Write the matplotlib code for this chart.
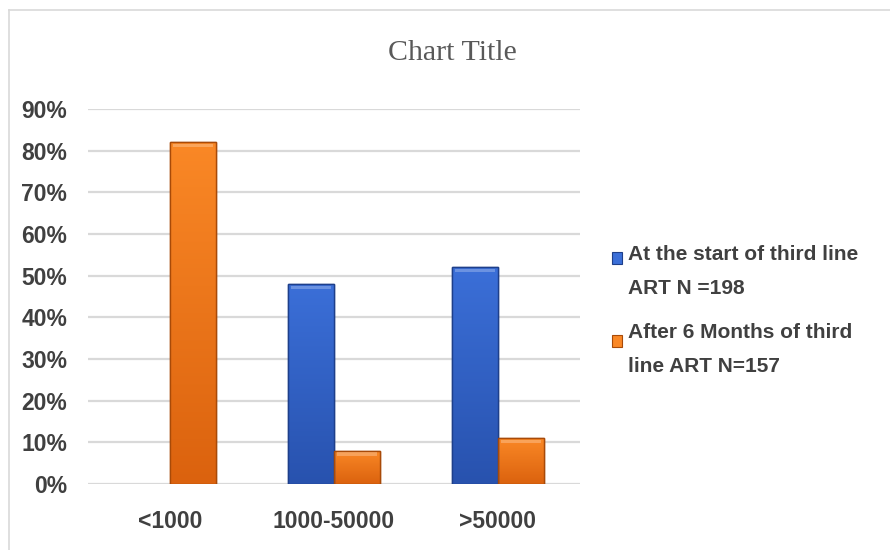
import numpy as np
import matplotlib
matplotlib.use("Agg")
import matplotlib.pyplot as plt
from matplotlib.colors import LinearSegmentedColormap
from matplotlib.patches import Rectangle
from matplotlib.lines import Line2D

# ---- data ----
categories = ["<1000", "1000-50000", ">50000"]
series_names = ["At the start of third line\nART N =198",
                "After 6 Months of third\nline ART N=157"]
start_values = [0.0, 0.48, 0.52]
after_values = [0.82, 0.08, 0.11]
y_ticks = [0.0, 0.1, 0.2, 0.3, 0.4, 0.5, 0.6, 0.7, 0.8, 0.9]
y_tick_labels = ["0%", "10%", "20%", "30%", "40%", "50%", "60%", "70%", "80%", "90%"]

# ---- style ----
W, H = 890, 550
fig = plt.figure(figsize=(W / 100, H / 100), dpi=100)
fig.patch.set_facecolor("white")

ax = fig.add_axes([88 / W, 1 - 484 / H, (580 - 88) / W, (484 - 109) / H])
ax.set_facecolor("white")

blue_top, blue_bot, blue_edge = "#3b6fd8", "#2852ae", "#1e3f8a"
orng_top, orng_bot, orng_edge = "#fa8826", "#db620e", "#a84a08"

x = np.arange(len(categories))
bw = 0.28

series = [(start_values, blue_top, blue_bot, blue_edge, -bw / 2),
          (after_values, orng_top, orng_bot, orng_edge, bw / 2)]

grad = np.linspace(0, 1, 256).reshape(-1, 1)
for vals, ctop, cbot, cedge, off in series:
    bars = ax.bar(x + off, vals, width=bw, color=ctop, edgecolor=cedge,
                  linewidth=1.0, zorder=3)
    cmap = LinearSegmentedColormap.from_list("g", [cbot, ctop])
    for b in bars:
        h = b.get_height()
        if h <= 0:
            b.set_visible(False)
            continue
        x0 = b.get_x()
        w = b.get_width()
        im = ax.imshow(grad, cmap=cmap, aspect="auto", origin="lower",
                       extent=[x0, x0 + w, 0, h], zorder=3.5,
                       interpolation="bicubic")
        im.set_clip_path(b)
        ax.add_patch(Rectangle((x0, 0), w, h, fill=False, edgecolor=cedge,
                               linewidth=1.0, zorder=4))
        ax.add_patch(Rectangle((x0 + w * 0.06, h - 0.012), w * 0.88, 0.008,
                               facecolor="white", alpha=0.25, linewidth=0,
                               zorder=4.5))

ax.set_xlim(-0.5, len(categories) - 0.5)
ax.set_ylim(0, 0.9)
ax.set_yticks(y_ticks)
ax.set_yticklabels(y_tick_labels)
ax.set_xticks(x)
ax.set_xticklabels(categories)
ax.yaxis.grid(True, color="#d9d9d9", linewidth=1.6, zorder=0)
ax.set_axisbelow(True)
for s in ax.spines.values():
    s.set_visible(False)
ax.tick_params(axis="both", length=0, colors="#404040")
ax.tick_params(axis="y", pad=15)
ax.tick_params(axis="x", pad=19)
for lab in ax.get_yticklabels() + ax.get_xticklabels():
    lab.set_fontsize(16.5)
    lab.set_fontweight("bold")
    lab.set_fontfamily("Liberation Sans")
    lab.set_color("#404040")

# title
fig.text(452 / W, 1 - 53 / H, "Chart Title", ha="center", va="center",
         fontsize=21.5, family="Liberation Serif", color="#595959")

# outer frame (left and top edges)
fig.add_artist(Line2D([9 / W, 9 / W], [0, 1 - 10 / H], transform=fig.transFigure,
                      color="#d9d9d9", linewidth=1.2))
fig.add_artist(Line2D([9 / W, 1], [1 - 10 / H, 1 - 10 / H], transform=fig.transFigure,
                      color="#d9d9d9", linewidth=1.2))

# legend (manual)
legend_specs = [(series_names[0], blue_top, blue_edge, 254, 258),
                (series_names[1], orng_top, orng_edge, 333, 341)]
for label, fc, ec, y_first, y_marker in legend_specs:
    fig.add_artist(Rectangle((612 / W, 1 - (y_marker + 6) / H), 10 / W, 12 / H,
                             transform=fig.transFigure, facecolor=fc,
                             edgecolor=ec, linewidth=0.8))
    for j, line in enumerate(label.split("\n")):
        fig.text(628 / W, 1 - (y_first + 34 * j) / H, line, ha="left",
                 va="center", fontsize=15, fontweight="bold",
                 family="Liberation Sans", color="#404040")

fig.savefig("out.png", dpi=100, facecolor="white")
